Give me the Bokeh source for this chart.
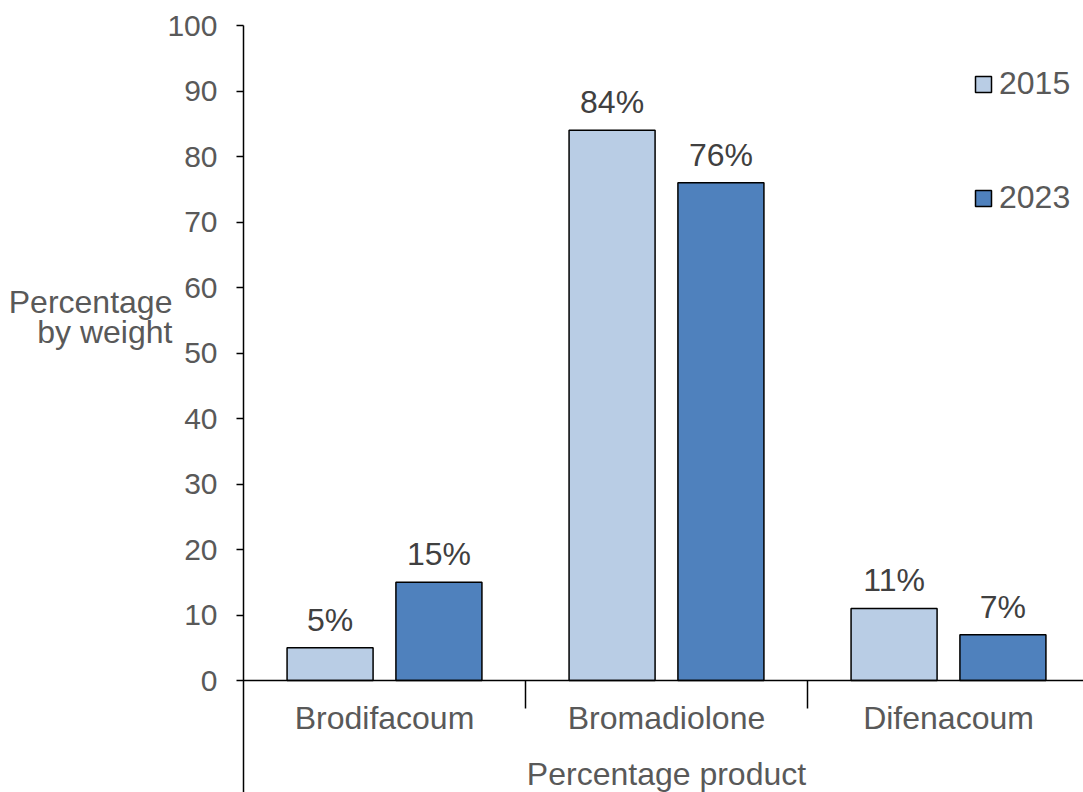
from bokeh.plotting import figure
from bokeh.models import (Range1d, FixedTicker, Span, Legend, LegendItem,
                          ColumnDataSource)
from bokeh.embed import file_html
from bokeh.resources import INLINE
from bokeh.core.properties import value

# Data
compounds = ["Brodifacoum", "Bromadiolone", "Difenacoum"]
years = ["2015", "2023"]
share_2015 = [5, 84, 11]
share_2023 = [15, 76, 7]
y_ticks = list(range(0, 101, 10))
y_title = "Percentage\nby weight"
x_title = "Percentage product"

# Styling
FONT = "Liberation Sans"
GREY = "#595959"
DARK = "#404040"
LIGHT_BLUE = "#B9CDE5"
MID_BLUE = "#4F81BD"

W, H = 1083, 792
LEFT, TOP = 243, 25
AXIS_Y = 680                      # pixel row of the zero line
PX_PER_UNIT = (AXIS_Y - TOP) / 100.0
CAT_PX = 282.0                    # pixel width of one category slot
frame_w = W - LEFT
frame_h = H - TOP

y_start = -(H - AXIS_Y) / PX_PER_UNIT
x_end = frame_w / CAT_PX

p = figure(width=W, height=H, output_backend="svg", toolbar_location=None,
           x_range=Range1d(0, x_end), y_range=Range1d(y_start, 100),
           min_border_left=LEFT, min_border_top=TOP, min_border_right=0,
           min_border_bottom=0, x_axis_location=None)
p.frame_width = frame_w
p.frame_height = frame_h
p.outline_line_color = None
p.grid.visible = False
p.background_fill_color = "white"
p.border_fill_color = "white"

# Y axis; the title sits beside the upper half, so pad it with empty lines
ya = p.yaxis[0]
ya.ticker = FixedTicker(ticks=y_ticks, minor_ticks=[])
ya.axis_line_color = "black"
ya.axis_line_width = 1.5
ya.major_tick_line_color = "black"
ya.major_tick_line_width = 1.5
ya.major_tick_out = 7
ya.major_tick_in = 0
ya.minor_tick_line_color = None
ya.major_label_text_font = FONT
ya.major_label_text_font_size = "30px"
ya.major_label_text_color = GREY
ya.major_label_standoff = 19
ya.axis_label = y_title + "\n" * 6
ya.axis_label_orientation = "horizontal"
ya.axis_label_text_align = "center"
ya.axis_label_text_font = FONT
ya.axis_label_text_font_style = "normal"
ya.axis_label_text_font_size = "32px"
ya.axis_label_text_line_height = 0.853
ya.axis_label_text_color = GREY
ya.axis_label_standoff = -8

# Bars
offset = 0.193
bar_w = 0.305
centers = [i + 0.5 for i in range(len(compounds))]
src15 = ColumnDataSource(dict(x=[c - offset for c in centers], top=share_2015,
                              lab=[f"{v}%" for v in share_2015]))
src23 = ColumnDataSource(dict(x=[c + offset for c in centers], top=share_2023,
                              lab=[f"{v}%" for v in share_2023]))
r15 = p.vbar(x="x", top="top", bottom=0, width=bar_w, source=src15,
             fill_color=LIGHT_BLUE, line_color="black", line_width=1.5)
r23 = p.vbar(x="x", top="top", bottom=0, width=bar_w, source=src23,
             fill_color=MID_BLUE, line_color="black", line_width=1.5)

for src in (src15, src23):
    p.text(x="x", y="top", text="lab", source=src, text_font=value(FONT),
           text_font_size="32px", text_color=DARK, text_align="center",
           text_baseline="alphabetic", y_offset=-28)

# Zero line and category separators
p.add_layout(Span(location=0, dimension="width", line_color="black",
                  line_width=1.5))
sep_len = 28 / PX_PER_UNIT
p.segment(x0=[1, 2], y0=[0, 0], x1=[1, 2], y1=[-sep_len, -sep_len],
          line_color="black", line_width=1.5)

# Category names and x title
p.text(x=centers, y=[0] * len(centers), text=compounds, text_font=value(FONT),
       text_font_size="32px", text_color=GREY, text_align="center",
       text_baseline="alphabetic", y_offset=37)
p.text(x=[1.5], y=[0], text=[x_title], text_font=value(FONT),
       text_font_size="32px", text_color=GREY, text_align="center",
       text_baseline="alphabetic", y_offset=93)

# Legend
legend = Legend(items=[LegendItem(label=years[0], renderers=[r15]),
                       LegendItem(label=years[1], renderers=[r23])],
                location=(730, frame_h - 191), orientation="vertical",
                glyph_width=20, glyph_height=20, label_standoff=6,
                spacing=77, padding=0, margin=0,
                label_text_font=FONT, label_text_font_size="32px",
                label_text_color=GREY, border_line_color=None,
                background_fill_alpha=0)
p.add_layout(legend)

open("out.html", "w").write(file_html(p, INLINE))
